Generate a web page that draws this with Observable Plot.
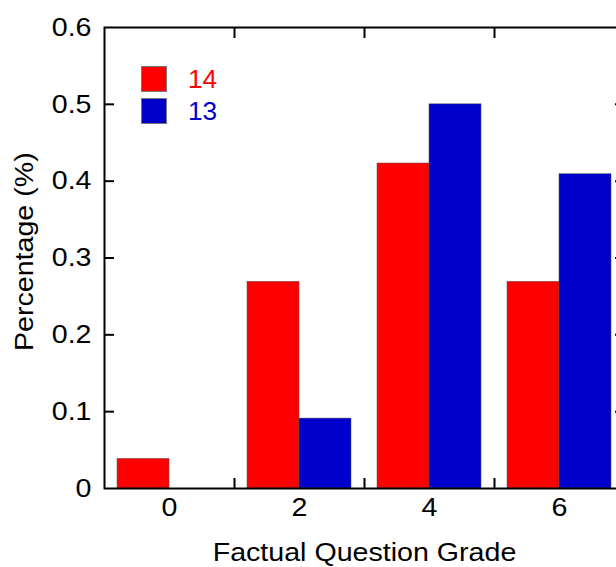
<!DOCTYPE html>
<html><head><meta charset="utf-8">
<script src="https://cdn.jsdelivr.net/npm/d3@7"></script>
<script src="https://cdn.jsdelivr.net/npm/@observablehq/plot@0.6"></script>
<style>
html,body{margin:0;padding:0;overflow:hidden;background:#fff;}
#wrap{position:relative;width:616px;height:567px;overflow:hidden;}
#wrap svg{max-width:none !important;display:block;}
.leg{position:absolute;left:141px;height:26px;display:flex;align-items:center;font-family:"Liberation Sans",Arial,sans-serif;font-size:25px;line-height:26px;}
.leg .sw{width:26px;height:26px;box-sizing:border-box;border:0.5px solid #777;}
.leg .lab{margin-left:21px;display:inline-block;transform:scaleX(1.05);transform-origin:left center;}
</style></head><body><div id="wrap"></div>
<script>
const grades = [0, 2, 4, 6];
const seriesNames = ["14", "13"];
const values14 = [0.0385, 0.269, 0.423, 0.269];
const values13 = [0, 0.091, 0.5, 0.409];
const seriesColors = ["#ff0000", "#0000cc"];
const yTicks = [0, 0.1, 0.2, 0.3, 0.4, 0.5, 0.6];
const yTickLabels = ["0", "0.1", "0.2", "0.3", "0.4", "0.5", "0.6"];
const xMinorTicks = [1, 3, 5];
const xLabel = "Factual Question Grade";
const yLabel = "Percentage (%)";

const barW = 0.8;
const seriesValues = [values14, values13];
const rows = [];
seriesNames.forEach((s, j) => {
  grades.forEach((g, i) => {
    rows.push({grade: g, series: s, value: seriesValues[j][i], x1: g - barW + j * barW, x2: g + j * barW});
  });
});

const font = "'Liberation Sans', Arial, sans-serif";
const chart = Plot.plot({
  width: 640, height: 567,
  marginLeft: 104, marginRight: 16, marginTop: 27, marginBottom: 79,
  style: {fontFamily: font, fontSize: "26px", background: "white", color: "black", overflow: "visible"},
  x: {type: "linear", domain: [-1, 7]},
  y: {domain: [0, 0.6]},
  color: {domain: seriesNames, range: seriesColors},
  marks: [
    Plot.rectY(rows.filter(d => d.value > 0), {x1: "x1", x2: "x2", y1: 0, y2: "value", fill: "series", stroke: "#555", strokeWidth: 0.5}),
    Plot.axisY(yTicks, {anchor: "left", tickSize: 0, tickPadding: 13, tickFormat: d => yTickLabels[yTicks.indexOf(d)], label: null, fontSize: 26}),
    Plot.axisY(yTicks.slice(1, -1), {anchor: "left", tickSize: 10, dx: 10, fill: "none", strokeWidth: 2, label: null}),
    Plot.axisY(yTicks.slice(1, -1), {anchor: "right", tickSize: 10, dx: -10, fill: "none", strokeWidth: 2, label: null}),
    Plot.axisX(grades, {anchor: "bottom", tickSize: 0, tickPadding: 9, label: null, fontSize: 26}),
    Plot.axisX(xMinorTicks, {anchor: "bottom", tickSize: 10, dy: -10, fill: "none", strokeWidth: 2, label: null}),
    Plot.axisX(xMinorTicks, {anchor: "top", tickSize: 10, dy: 10, fill: "none", strokeWidth: 2, label: null}),
    Plot.frame({stroke: "black", strokeWidth: 2}),
    Plot.text([yLabel], {frameAnchor: "left", lineAnchor: "middle", textAnchor: "start", rotate: -90, dx: -80, dy: 93, text: d => d, fontSize: 26, fill: "black"}),
    Plot.text([xLabel], {frameAnchor: "bottom", lineAnchor: "middle", dy: 64, text: d => d, fontSize: 26, fill: "black"})
  ]
});
const wrap = document.getElementById("wrap");
wrap.appendChild(chart);
chart.querySelectorAll("text").forEach(t => {
  if (!t.textContent) return;
  const L = t.getComputedTextLength();
  t.setAttribute("textLength", (L * 1.1).toFixed(2));
  t.setAttribute("lengthAdjust", "spacingAndGlyphs");
});
seriesNames.forEach((s, j) => {
  const row = document.createElement("div");
  row.className = "leg";
  row.style.top = (66 + j * 32) + "px";
  const sw = document.createElement("div");
  sw.className = "sw";
  sw.style.background = seriesColors[j];
  const lab = document.createElement("span");
  lab.className = "lab";
  lab.style.color = seriesColors[j];
  lab.textContent = s;
  row.appendChild(sw); row.appendChild(lab);
  wrap.appendChild(row);
});
</script></body></html>
